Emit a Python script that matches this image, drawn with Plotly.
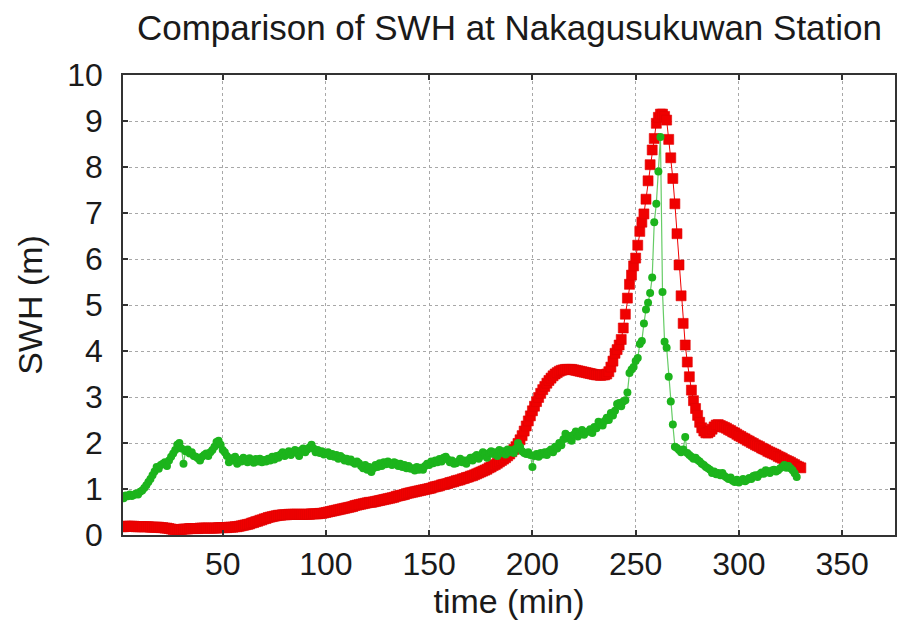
import plotly.graph_objects as go

# Simulated SWH (red squares), one value per minute from t = 1
sim_swh = [
    0.18, 0.18, 0.19, 0.19, 0.19, 0.19, 0.19, 0.18, 0.18, 0.18,
    0.18, 0.18, 0.18, 0.18, 0.17, 0.17, 0.17, 0.17, 0.17, 0.16,
    0.16, 0.15, 0.15, 0.14, 0.13, 0.12, 0.12, 0.12, 0.12, 0.12,
    0.13, 0.13, 0.13, 0.14, 0.14, 0.14, 0.14, 0.14, 0.15, 0.15,
    0.15, 0.15, 0.15, 0.15, 0.15, 0.15, 0.15, 0.16, 0.16, 0.16,
    0.16, 0.16, 0.17, 0.17, 0.17, 0.18, 0.18, 0.19, 0.20, 0.21,
    0.22, 0.23, 0.24, 0.26, 0.27, 0.29, 0.30, 0.32, 0.33, 0.35,
    0.36, 0.38, 0.39, 0.40, 0.41, 0.42, 0.43, 0.43, 0.44, 0.44,
    0.44, 0.45, 0.45, 0.45, 0.45, 0.45, 0.45, 0.45, 0.45, 0.45,
    0.45, 0.45, 0.46, 0.46, 0.46, 0.46, 0.47, 0.47, 0.48, 0.49,
    0.50, 0.51, 0.52, 0.53, 0.54, 0.55, 0.56, 0.57, 0.58, 0.59,
    0.60, 0.61, 0.62, 0.64, 0.65, 0.66, 0.67, 0.68, 0.69, 0.70,
    0.71, 0.71, 0.72, 0.73, 0.74, 0.75, 0.76, 0.77, 0.78, 0.79,
    0.80, 0.81, 0.82, 0.84, 0.85, 0.86, 0.87, 0.88, 0.90, 0.91,
    0.92, 0.93, 0.94, 0.95, 0.96, 0.97, 0.98, 0.99, 1.00, 1.01,
    1.02, 1.04, 1.05, 1.06, 1.07, 1.09, 1.10, 1.11, 1.12, 1.14,
    1.15, 1.16, 1.18, 1.19, 1.20, 1.22, 1.23, 1.25, 1.26, 1.28,
    1.29, 1.31, 1.33, 1.35, 1.37, 1.39, 1.41, 1.43, 1.46, 1.48,
    1.51, 1.53, 1.56, 1.59, 1.62, 1.65, 1.68, 1.72, 1.76, 1.81,
    1.86, 1.92, 1.99, 2.07, 2.16, 2.26, 2.37, 2.48, 2.59, 2.70,
    2.80, 2.90, 2.99, 3.08, 3.16, 3.23, 3.30, 3.36, 3.41, 3.46,
    3.50, 3.53, 3.56, 3.58, 3.59, 3.60, 3.60, 3.60, 3.60, 3.59,
    3.58, 3.57, 3.56, 3.55, 3.54, 3.53, 3.52, 3.51, 3.50, 3.49,
    3.48, 3.48, 3.47, 3.48, 3.48, 3.50, 3.55, 3.65, 3.78, 3.95,
    4.03, 4.13, 4.25, 4.50, 4.80, 5.15, 5.45, 5.65, 5.85, 6.02,
    6.30, 6.60, 6.80, 6.98, 7.30, 7.70, 8.05, 8.37, 8.62, 8.95,
    9.08, 9.15, 9.15, 9.10, 9.02, 8.60, 8.20, 7.75, 7.20, 6.55,
    5.87, 5.20, 4.60, 4.13, 3.76, 3.44, 3.15, 2.92, 2.75, 2.60,
    2.45, 2.33, 2.26, 2.22, 2.22, 2.25, 2.30, 2.35, 2.39, 2.40,
    2.38, 2.36, 2.34, 2.32, 2.29, 2.27, 2.24, 2.22, 2.19, 2.16,
    2.14, 2.11, 2.09, 2.06, 2.04, 2.01, 1.99, 1.96, 1.94, 1.92,
    1.89, 1.87, 1.85, 1.82, 1.80, 1.78, 1.76, 1.74, 1.71, 1.69,
    1.67, 1.64, 1.62, 1.60, 1.58, 1.55, 1.53, 1.50, 1.48, 1.46,
]
sim_time = list(range(1, len(sim_swh) + 1))

# Observed SWH (green circles), one value per minute from t = 1
obs_swh = [
    0.83, 0.80, 0.86, 0.84, 0.88, 0.85, 0.87, 0.90, 0.88, 0.94,
    0.97, 1.02, 1.08, 1.15, 1.22, 1.30, 1.38, 1.48, 1.44, 1.52,
    1.55, 1.58, 1.50, 1.62, 1.70, 1.77, 1.85, 1.96, 2.00, 1.88,
    1.55, 1.82, 1.86, 1.77, 1.80, 1.72, 1.70, 1.67, 1.62, 1.70,
    1.74, 1.77, 1.72, 1.80, 1.85, 1.92, 2.02, 2.05, 1.96, 1.85,
    1.80, 1.72, 1.58, 1.67, 1.62, 1.70, 1.55, 1.63, 1.60, 1.68,
    1.64, 1.58, 1.67, 1.62, 1.57, 1.65, 1.60, 1.66, 1.58, 1.63,
    1.60, 1.66, 1.62, 1.70, 1.64, 1.72, 1.68, 1.75, 1.80, 1.72,
    1.77, 1.82, 1.74, 1.80, 1.85, 1.78, 1.72, 1.84, 1.88, 1.80,
    1.86, 1.90, 1.96, 1.88, 1.80, 1.85, 1.78, 1.82, 1.75, 1.77,
    1.80, 1.72, 1.76, 1.70, 1.74, 1.66, 1.72, 1.68, 1.62, 1.66,
    1.60, 1.64, 1.58, 1.55, 1.60, 1.56, 1.50, 1.45, 1.52, 1.42,
    1.48, 1.37, 1.45, 1.52, 1.48, 1.56, 1.50, 1.58, 1.54, 1.60,
    1.55, 1.52, 1.58, 1.56, 1.50, 1.55, 1.48, 1.52, 1.45, 1.50,
    1.44, 1.45, 1.40, 1.48, 1.42, 1.46, 1.42, 1.50, 1.55, 1.52,
    1.60, 1.56, 1.62, 1.58, 1.65, 1.60, 1.68, 1.70, 1.64, 1.58,
    1.62, 1.55, 1.56, 1.60, 1.66, 1.58, 1.62, 1.55, 1.63, 1.68,
    1.62, 1.70, 1.74, 1.66, 1.72, 1.80, 1.75, 1.68, 1.78, 1.82,
    1.76, 1.80, 1.72, 1.85, 1.78, 1.82, 1.75, 1.86, 1.80, 1.84,
    1.78, 1.88, 2.00, 1.92, 1.82, 1.78, 1.76, 1.80, 1.74, 1.48,
    1.72, 1.76, 1.70, 1.78, 1.75, 1.80, 1.74, 1.82, 1.86, 1.80,
    1.92, 1.88, 2.00, 1.95, 2.08, 2.20, 2.10, 2.15, 2.05, 2.18,
    2.25, 2.14, 2.20, 2.28, 2.18, 2.24, 2.25, 2.30, 2.22, 2.35,
    2.32, 2.46, 2.40, 2.38, 2.48, 2.55, 2.50, 2.65, 2.60, 2.70,
    2.85, 2.87, 2.80, 2.90, 2.93, 3.10, 3.52, 3.60, 3.65, 3.78,
    3.85, 4.15, 4.22, 4.60, 4.90, 5.05, 5.26, 5.60, 6.80, 7.20,
    7.90, 8.65, 5.28, 4.20, 4.07, 3.44, 2.90, 2.40, 1.92, 1.89,
    1.85, 1.80, 1.86, 2.13, 1.78, 1.74, 1.70, 1.66, 1.68, 1.63,
    1.60, 1.55, 1.52, 1.48, 1.45, 1.42, 1.35, 1.38, 1.32, 1.35,
    1.30, 1.35, 1.28, 1.25, 1.22, 1.25, 1.18, 1.15, 1.20, 1.14,
    1.18, 1.22, 1.17, 1.20, 1.24, 1.22, 1.28, 1.30, 1.26, 1.32,
    1.36, 1.33, 1.41, 1.38, 1.35, 1.40, 1.42, 1.38, 1.41, 1.45,
    1.48, 1.52, 1.46, 1.50, 1.45, 1.41, 1.34, 1.26,
]
obs_time = list(range(1, len(obs_swh) + 1))

x_ticks = [50, 100, 150, 200, 250, 300, 350]
y_ticks = list(range(0, 11))

FONT = "Liberation Sans, Arial, sans-serif"
TEXT = "#1a1a1a"

fig = go.Figure()

fig.add_trace(go.Scatter(
    x=sim_time, y=sim_swh, mode="lines+markers", name="simulated",
    line=dict(color="#f00000", width=1),
    marker=dict(symbol="square", size=10, color="#f00000",
                line=dict(width=0.6, color="#e00000")),
))

fig.add_trace(go.Scatter(
    x=obs_time, y=obs_swh, mode="lines+markers", name="observed",
    line=dict(color="#66cc66", width=1.2),
    marker=dict(symbol="circle", size=8, color="#1cb41c"),
))

axis_common = dict(
    showline=True, linecolor="#333333", linewidth=1.5, mirror="ticks",
    ticks="inside", ticklen=5, tickcolor="#333333", tickwidth=1.5,
    showgrid=True, gridcolor="#a8a8a8", griddash="dot", gridwidth=1,
    zeroline=False,
    tickfont=dict(family=FONT, size=32, color=TEXT),
)

fig.update_layout(
    width=897, height=623,
    margin=dict(l=123, r=0, t=75, b=88),
    paper_bgcolor="white", plot_bgcolor="white",
    showlegend=False,
    title=dict(text="Comparison of SWH at Nakagusukuwan Station",
               x=0.568, xanchor="center", y=0.955, yanchor="middle",
               font=dict(family=FONT, size=35, color=TEXT)),
    xaxis=dict(
        range=[1.7, 375.6], tickvals=x_ticks,
        title=dict(text="time (min)", standoff=6,
                   font=dict(family=FONT, size=34, color=TEXT)),
        **axis_common,
    ),
    yaxis=dict(
        range=[0, 10], tickvals=y_ticks, ticklabelstandoff=12,
        title=dict(text="SWH (m)", standoff=14,
                   font=dict(family=FONT, size=34, color=TEXT)),
        **axis_common,
    ),
)

fig.write_html("out.html")
